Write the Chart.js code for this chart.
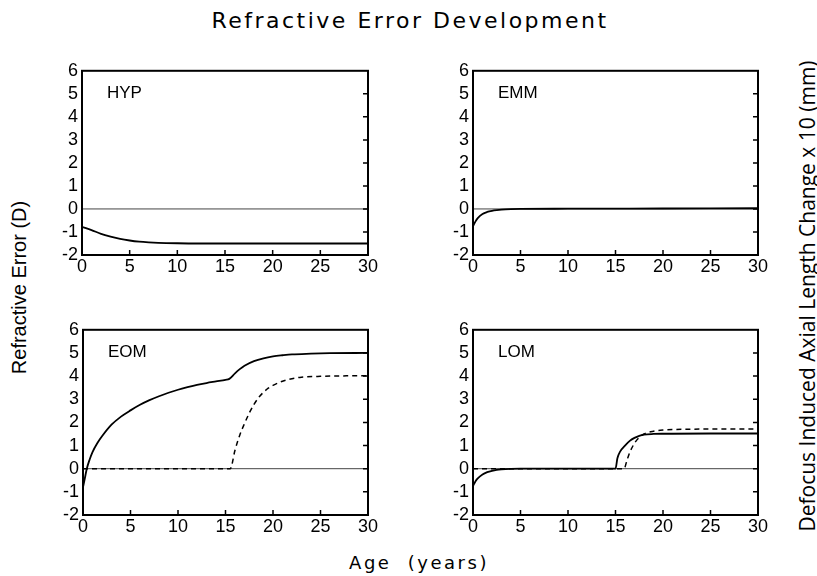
<!DOCTYPE html>
<html>
<head>
<meta charset="utf-8">
<script src="https://cdn.jsdelivr.net/npm/chart.js@4.4.1/dist/chart.umd.min.js"></script>
<style>
  html, body { margin: 0; padding: 0; background: #fff; }
  #wrap { position: relative; width: 817px; height: 576px; overflow: hidden; background: #fff; }
  canvas.panel { position: absolute; }
  .lbl { position: absolute; color: #000; white-space: pre; line-height: 1; }
  #title { left: 0; width: 820px; text-align: center; top: 8px; font: 22px "DejaVu Sans", sans-serif; letter-spacing: 2.5px; }
  #xlab { left: 0; width: 838px; text-align: center; top: 552px; font: 18px "DejaVu Sans", sans-serif; letter-spacing: 2.5px; }
  #ylab { font: 20px "Liberation Sans", Arial, sans-serif; transform-origin: center center; }
  #rlab { font: 21px "Open Sans", sans-serif; transform-origin: center center; }
</style>
</head>
<body>
<div id="wrap">
  <div id="title" class="lbl">Refractive Error Development</div>
  <div id="xlab" class="lbl">Age  (years)</div>
  <div id="ylab" class="lbl">Refractive Error (D)</div>
  <div id="rlab" class="lbl">Defocus Induced Axial Length Change x 10 (mm)</div>
  <canvas id="p1" class="panel"></canvas>
  <canvas id="p2" class="panel"></canvas>
  <canvas id="p3" class="panel"></canvas>
  <canvas id="p4" class="panel"></canvas>
</div>
<script>
// ---- data ----
const xTicks = [0, 5, 10, 15, 20, 25, 30];
const yTicks = [-2, -1, 0, 1, 2, 3, 4, 5, 6];
const panelNames = ["HYP", "EMM", "EOM", "LOM"];

const zeroAge = [0, 30];
const zeroVal = [0, 0];

const hypAge  = [0, 1, 2, 3, 4, 5, 6, 7, 8, 10, 12, 15, 20, 30];
const hypRefr = [-0.78, -0.92, -1.08, -1.2, -1.3, -1.37, -1.42, -1.45, -1.47, -1.49, -1.5, -1.5, -1.5, -1.5];

const emmAge  = [0, 0.25, 0.5, 1, 1.5, 2, 2.5, 3, 4, 5, 10, 20, 30];
const emmRefr = [-0.75, -0.55, -0.4, -0.22, -0.13, -0.08, -0.05, -0.03, -0.01, 0, 0.01, 0.02, 0.03];

const eomAge  = [0, 0.2, 0.4, 0.7, 1, 1.5, 2, 3, 4, 5, 6, 7, 8, 9, 10, 11, 12, 13, 14, 15, 15.4, 16, 16.5, 17, 18, 19, 20, 21, 22, 24, 26, 30];
const eomRefr = [-0.8, -0.4, 0, 0.4, 0.72, 1.1, 1.4, 1.9, 2.25, 2.52, 2.76, 2.96, 3.13, 3.28, 3.41, 3.52, 3.62, 3.7, 3.77, 3.84, 3.88, 4.12, 4.3, 4.45, 4.65, 4.77, 4.85, 4.9, 4.94, 4.97, 4.99, 5.0];
const eomAxialAge = [0, 15.5, 16, 16.5, 17, 17.5, 18, 18.5, 19, 19.5, 20, 21, 22, 23, 25, 30];
const eomAxial    = [0, 0, 0.8, 1.45, 1.95, 2.4, 2.78, 3.08, 3.3, 3.48, 3.6, 3.78, 3.89, 3.95, 3.99, 4.02];

const lomAge  = [0, 0.25, 0.5, 1, 1.5, 2, 2.5, 3, 4, 5, 10, 15, 15.2, 15.5, 16, 16.5, 17, 17.5, 18, 19, 20, 25, 30];
const lomRefr = [-0.75, -0.55, -0.42, -0.25, -0.15, -0.09, -0.05, -0.03, -0.01, 0, 0, 0, 0.45, 0.75, 1.0, 1.2, 1.33, 1.42, 1.47, 1.5, 1.51, 1.52, 1.52];
const lomAxialAge = [0, 15.9, 16.2, 16.5, 17, 17.5, 18, 19, 20, 22, 30];
const lomAxial    = [0, 0, 0.35, 0.7, 1.1, 1.35, 1.5, 1.62, 1.67, 1.7, 1.72];

// ---- helpers ----
function pts(xs, ys) { return xs.map((x, i) => ({ x: x, y: ys[i] })); }

const frameTicks = {
  id: 'frameTicks',
  afterDatasetsDraw(chart, args, opts) {
    const ctx = chart.ctx, a = chart.chartArea;
    const xs = chart.scales.x, ys = chart.scales.y;
    ctx.save();
    ctx.strokeStyle = '#000';
    ctx.lineWidth = 1.5;
    const tl = 5;
    ctx.beginPath();
    xTicks.forEach(v => {
      if (v <= 0 || v >= 30) return;
      const px = xs.getPixelForValue(v);
      ctx.moveTo(px, a.bottom); ctx.lineTo(px, a.bottom - tl);
    });
    yTicks.forEach(v => {
      if (v <= -2 || v >= 6) return;
      const py = ys.getPixelForValue(v);
      ctx.moveTo(a.right, py); ctx.lineTo(a.right - tl, py);
    });
    ctx.stroke();
    ctx.lineWidth = 2;
    ctx.strokeRect(a.left, a.top, a.right - a.left, a.bottom - a.top);
    ctx.fillStyle = '#000';
    ctx.font = '17px "Liberation Sans", Arial, sans-serif';
    ctx.textBaseline = 'alphabetic';
    ctx.fillText(opts.label, a.left + 25, a.top + 27);
    ctx.restore();
  }
};

function solid(data) {
  return { data: data, borderColor: '#000', borderWidth: 1.8, pointRadius: 0, fill: false, cubicInterpolationMode: 'monotone' };
}
function dashed(data) {
  return { data: data, borderColor: '#000', borderWidth: 1.5, borderDash: [5, 4], pointRadius: 0, fill: false, cubicInterpolationMode: 'monotone' };
}
function zero() {
  return { data: pts(zeroAge, zeroVal), borderColor: '#444', borderWidth: 1, pointRadius: 0, fill: false };
}

function makePanel(id, left, top, w, h, label, datasets) {
  const cv = document.getElementById(id);
  const cw = w + 54, ch = h + 41;
  cv.style.left = (left - 42) + 'px';
  cv.style.top = (top - 10) + 'px';
  cv.width = cw; cv.height = ch;
  cv.style.width = cw + 'px'; cv.style.height = ch + 'px';
  const tickFont = { family: '"Liberation Sans", Arial, sans-serif', size: 18 };
  new Chart(cv, {
    type: 'line',
    data: { datasets: datasets },
    options: {
      responsive: false,
      animation: false,
      events: [],
      layout: { padding: { left: 0, top: 10, right: 12, bottom: 0 } },
      plugins: { legend: { display: false }, tooltip: { enabled: false }, title: { display: false }, frameTicks: { label: label } },
      scales: {
        x: {
          type: 'linear', min: 0, max: 30,
          afterBuildTicks: s => { s.ticks = xTicks.map(v => ({ value: v })); },
          afterFit: s => { s.height = 31; },
          grid: { display: false, drawTicks: false },
          border: { display: false },
          ticks: { font: tickFont, color: '#000', padding: 1, maxRotation: 0, autoSkip: false }
        },
        y: {
          type: 'linear', min: -2, max: 6,
          afterBuildTicks: s => { s.ticks = yTicks.map(v => ({ value: v })); },
          afterFit: s => { s.width = 42; },
          grid: { display: false, drawTicks: false },
          border: { display: false },
          ticks: { font: tickFont, color: '#000', padding: 4, autoSkip: false }
        }
      }
    },
    plugins: [frameTicks]
  });
}

makePanel('p1', 82, 66, 286, 189, panelNames[0], [solid(pts(hypAge, hypRefr)), zero()]);
makePanel('p2', 473, 66, 285, 189, panelNames[1], [solid(pts(emmAge, emmRefr)), zero()]);
makePanel('p3', 83, 325, 285, 190, panelNames[2], [solid(pts(eomAge, eomRefr)), dashed(pts(eomAxialAge, eomAxial)), zero()]);
makePanel('p4', 473, 325, 285, 190, panelNames[3], [solid(pts(lomAge, lomRefr)), dashed(pts(lomAxialAge, lomAxial)), zero()]);

// rotated axis labels
function placeRot(id, cx, cy) {
  const el = document.getElementById(id);
  const w = el.offsetWidth, h = el.offsetHeight;
  el.style.left = (cx - w / 2) + 'px';
  el.style.top = (cy - h / 2) + 'px';
  el.style.transform = 'rotate(-90deg)';
}
placeRot('ylab', 19, 287);
placeRot('rlab', 806, 296);
</script>
</body>
</html>
